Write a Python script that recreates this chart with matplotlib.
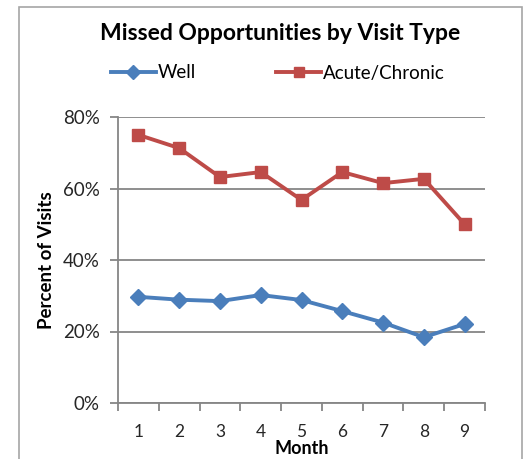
import matplotlib.pyplot as plt
from matplotlib.patches import Rectangle
from matplotlib.ticker import PercentFormatter

plt.rcParams['font.family'] = ['Lato', 'DejaVu Sans']

months = [1, 2, 3, 4, 5, 6, 7, 8, 9]
well = [29.7, 28.9, 28.5, 30.2, 28.8, 25.7, 22.5, 18.4, 22.1]
acute = [75.0, 71.3, 63.2, 64.6, 56.8, 64.6, 61.5, 62.7, 50.0]

fig = plt.figure(figsize=(5.28, 4.59), dpi=100)
fig.patches.append(Rectangle((19 / 528, -0.1), (522 - 19) / 528, 1.1 - 7 / 459,
                             transform=fig.transFigure, fill=False,
                             edgecolor='#a6a6a6', linewidth=1.2))
ax = fig.add_axes([118 / 528, 56 / 459, (485 - 118) / 528, (403 - 117) / 459])

ax.plot(months, well, color='#4a7ebb', lw=2.8, marker='D', ms=8,
        label='Well', zorder=3)
ax.plot(months, acute, color='#be4b48', lw=2.8, marker='s', ms=8,
        label='Acute/Chronic', zorder=3)

ax.set_xlim(0.5, 9.5)
ax.set_ylim(0, 80)
ax.set_yticks([0, 20, 40, 60, 80])
ax.yaxis.set_major_formatter(PercentFormatter(decimals=0))
ax.set_xticks(months)
ax.set_xticks([m + 0.5 for m in [0] + months], minor=True)
ax.tick_params(axis='x', which='major', length=0, pad=15, labelsize=12.5,
               labelcolor='#262626')
ax.tick_params(axis='x', which='minor', length=6, width=1.3, color='#868686',
               direction='out')
ax.tick_params(axis='y', length=6, width=1.3, color='#868686', pad=7,
               labelsize=13.5, labelcolor='#262626')

ax.grid(axis='y', color='#868686', lw=1.3)
ax.set_axisbelow(True)
for s in ['top', 'right']:
    ax.spines[s].set_visible(False)
for s in ['left', 'bottom']:
    ax.spines[s].set_color('#868686')
    ax.spines[s].set_linewidth(1.3)

ax.set_xlabel('Month', fontsize=13, fontweight='bold', labelpad=0)
ax.set_ylabel('Percent of Visits', fontsize=13.5, fontweight='bold', labelpad=6)

fig.text(0.53, 1 - 33 / 459, 'Missed Opportunities by Visit Type',
         ha='center', va='center', fontsize=16.5, fontweight='bold')
fig.legend(loc='center', bbox_to_anchor=(0.526, 1 - 73 / 459), ncol=2,
           frameon=False, fontsize=13.5, handlelength=2.4, handletextpad=0.1,
           columnspacing=4.3, markerscale=0.85)

fig.savefig('out.png', dpi=100)
